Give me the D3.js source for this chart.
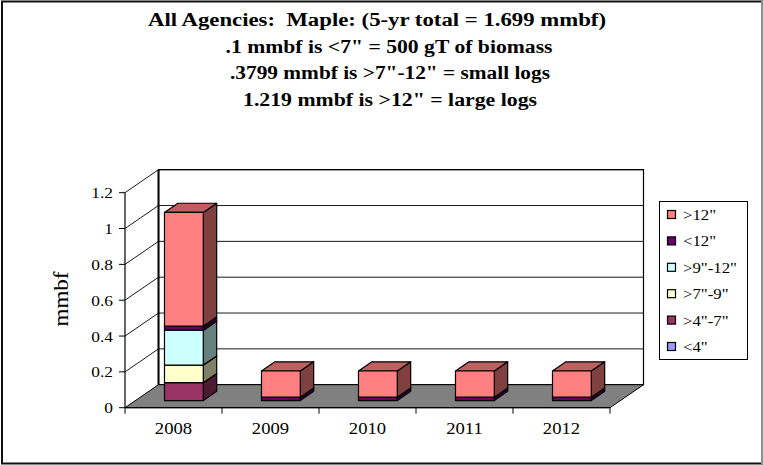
<!DOCTYPE html>
<html>
<head>
<meta charset="utf-8">
<script src="https://cdn.jsdelivr.net/npm/d3@7"></script>
<style>
  html, body { margin: 0; padding: 0; background: #fff; }
  svg { display: block; }
  text { font-family: "Liberation Serif", "Times New Roman", serif; fill: #000; white-space: pre; }
</style>
</head>
<body>
<svg id="chart" width="763" height="465"></svg>
<script>
// ---- data (mmbf per year, stacked bottom → top) ----
const years = ["2008", "2009", "2010", "2011", "2012"];
const seriesNames = ["<4\"", ">4\"-7\"", ">7\"-9\"", ">9\"-12\"", "<12\"", ">12\""];
const under4   = [0, 0, 0, 0, 0];
const from4to7 = [0.100, 0, 0, 0, 0];
const from7to9 = [0.098, 0, 0, 0, 0];
const from9to12 = [0.195, 0, 0, 0, 0];
const under12  = [0.022, 0.019, 0.019, 0.019, 0.019];
const over12   = [0.635, 0.146, 0.146, 0.146, 0.146];
const seriesValues = [under4, from4to7, from7to9, from9to12, under12, over12];
const seriesColors = ["#9999FF", "#993366", "#FFFFCC", "#CCFFFF", "#660066", "#FF8080"];
const yTicks = [0, 0.2, 0.4, 0.6, 0.8, 1, 1.2];
const titleLines = [
  "All Agencies:  Maple: (5-yr total = 1.699 mmbf)",
  ".1 mmbf is <7\" = 500 gT of biomass",
  ".3799 mmbf is >7\"-12\" = small logs",
  "1.219 mmbf is >12\" = large logs"
];

const svg = d3.select("#chart");
// text with a slight horizontal stretch (wide serif look)
const wide = (sel, k) => sel.attr("transform", function () {
  const t = d3.select(this);
  return `translate(${+t.attr("x")},${+t.attr("y")}) scale(${k},1)`;
}).attr("x", 0).attr("y", 0);

// outer frame
svg.append("rect").attr("x", 2).attr("y", 1.5).attr("width", 760).attr("height", 462)
  .attr("fill", "none").attr("stroke", "#111").attr("stroke-width", 2);
svg.append("line").attr("x1", 762).attr("x2", 762).attr("y1", 1).attr("y2", 464)
  .attr("stroke", "#bbb").attr("stroke-width", 1.5);

// title
const titleCenters = [377, 389, 390, 390];
const titleWidths = [458, 327, 320, 294];
svg.append("g").selectAll("text").data(titleLines).join("text")
  .attr("x", (d, i) => titleCenters[i]).attr("y", (d, i) => 26 + i * 26.7)
  .attr("text-anchor", "middle")
  .attr("font-size", 18.5).attr("font-weight", "bold")
  .attr("textLength", (d, i) => titleWidths[i]).attr("lengthAdjust", "spacingAndGlyphs")
  .text(d => d);

// ---- 3-D projection of the plot box ----
const x = d3.scaleBand().domain(years).range([125, 610]).paddingInner(0.6).paddingOuter(0.3);
const xSlot = d3.scaleBand().domain(years).range([125, 610]);
const y = d3.scaleLinear().domain([0, 1.2]).range([407.7, 192.7]);
const depth = { dx: 33.5, dy: -23 };
// project (screen x at front, value, depth 0..1)
const P = (sx, v, d) => [sx + depth.dx * d, y(v) + depth.dy * d];
const poly = pts => pts.map(p => p.join(",")).join(" ");

const plot = svg.append("g");
const x0 = 125, x1 = 610;

// back wall
plot.append("polygon")
  .attr("points", poly([P(x0, 0, 1), P(x1, 0, 1), P(x1, 1.2, 1), P(x0, 1.2, 1)]))
  .attr("fill", "#fff").attr("stroke", "#000").attr("stroke-width", 1.2);
// side wall
plot.append("polygon")
  .attr("points", poly([P(x0, 0, 0), P(x0, 0, 1), P(x0, 1.2, 1), P(x0, 1.2, 0)]))
  .attr("fill", "#fff").attr("stroke", "none");
// floor
plot.append("polygon")
  .attr("points", poly([P(x0, 0, 0), P(x1, 0, 0), P(x1, 0, 1), P(x0, 0, 1)]))
  .attr("fill", "#808080").attr("stroke", "#000").attr("stroke-width", 1);

// gridlines: side wall diagonal + back wall horizontal
const grid = plot.append("g").attr("stroke", "#000").attr("stroke-width", 0.9).attr("fill", "none");
grid.selectAll("polyline").data(yTicks.filter(t => t > 0)).join("polyline")
  .attr("points", t => poly([P(x0, t, 0), P(x0, t, 1), P(x1, t, 1)]));
// back vertical edge of side wall
plot.append("line")
  .attr("x1", P(x0, 0, 1)[0]).attr("y1", P(x0, 0, 1)[1])
  .attr("x2", P(x0, 1.2, 1)[0]).attr("y2", P(x0, 1.2, 1)[1])
  .attr("stroke", "#000").attr("stroke-width", 2);

// y axis
const yAxis = plot.append("g");
yAxis.append("line").attr("x1", x0).attr("x2", x0).attr("y1", y(0)).attr("y2", y(1.2))
  .attr("stroke", "#000").attr("stroke-width", 1.2);
yAxis.selectAll("line.tick").data(yTicks).join("line").attr("class", "tick")
  .attr("x1", x0 - 6).attr("x2", x0).attr("y1", d => y(d)).attr("y2", d => y(d))
  .attr("stroke", "#000");
yAxis.selectAll("text").data(yTicks).join("text")
  .attr("x", 113).attr("y", d => y(d) + 5.5)
  .attr("text-anchor", "end").attr("font-size", 15.5)
  .text(d => d3.format("~g")(d))
  .call(wide, 1.12);

// x axis
const xAxis = plot.append("g");
xAxis.append("line").attr("x1", x0).attr("x2", x1).attr("y1", y(0)).attr("y2", y(0))
  .attr("stroke", "#000").attr("stroke-width", 1.2);
xAxis.selectAll("line.tick").data(years.concat(["end"])).join("line").attr("class", "tick")
  .attr("x1", (d, i) => x0 + i * xSlot.step()).attr("x2", (d, i) => x0 + i * xSlot.step())
  .attr("y1", y(0)).attr("y2", y(0) + 6)
  .attr("stroke", "#000");
xAxis.selectAll("text").data(years).join("text")
  .attr("x", d => xSlot(d) + xSlot.bandwidth() / 2).attr("y", 434)
  .attr("text-anchor", "middle").attr("font-size", 16.5)
  .text(d => d)
  .call(wide, 1.13);

// y title
svg.append("text")
  .attr("transform", "translate(68,299) rotate(-90)")
  .attr("text-anchor", "middle").attr("font-size", 20)
  .attr("textLength", 55).attr("lengthAdjust", "spacingAndGlyphs")
  .text("mmbf");

// ---- stacked 3-D bars ----
const rows = years.map((yr, i) => {
  const r = { year: yr };
  seriesNames.forEach((s, k) => { r[s] = seriesValues[k][i]; });
  return r;
});
const stack = d3.stack().keys(seriesNames)(rows);
const dFront = 0.31, dBack = 0.71;
const shade = (c, f) => { const o = d3.rgb(c); return d3.rgb(o.r * f, o.g * f, o.b * f).formatHex(); };

const barsG = plot.append("g");
years.forEach((yr, i) => {
  const bx0 = x(yr), bx1 = x(yr) + x.bandwidth();
  stack.forEach((layer, k) => {
    const [v0, v1] = layer[i];
    if (v1 - v0 <= 0) return;
    const c = seriesColors[k];
    const g = barsG.append("g").attr("stroke", "#000").attr("stroke-width", 1.2).attr("stroke-linejoin", "round");
    // right side
    g.append("polygon").attr("fill", shade(c, 0.5))
      .attr("points", poly([P(bx1, v0, dFront), P(bx1, v0, dBack), P(bx1, v1, dBack), P(bx1, v1, dFront)]));
    // top
    g.append("polygon").attr("fill", shade(c, 0.75))
      .attr("points", poly([P(bx0, v1, dFront), P(bx1, v1, dFront), P(bx1, v1, dBack), P(bx0, v1, dBack)]));
    // front
    g.append("polygon").attr("fill", c)
      .attr("points", poly([P(bx0, v0, dFront), P(bx1, v0, dFront), P(bx1, v1, dFront), P(bx0, v1, dFront)]));
  });
});

// ---- legend ----
const legend = svg.append("g");
legend.append("rect").attr("x", 659.5).attr("y", 201.5).attr("width", 88).attr("height", 158)
  .attr("fill", "#fff").attr("stroke", "#000").attr("stroke-width", 1);
const legItems = seriesNames.map((s, k) => ({ name: s, color: seriesColors[k] })).reverse();
const li = legend.selectAll("g.item").data(legItems).join("g").attr("class", "item")
  .attr("transform", (d, i) => `translate(0,${215 + i * 26.4})`);
li.append("rect").attr("x", 667.5).attr("y", -4.5).attr("width", 8).attr("height", 8)
  .attr("fill", d => d.color).attr("stroke", "#000").attr("stroke-width", 1.2);
li.append("text").attr("x", 683).attr("y", 5).attr("font-size", 15)
  .text(d => d.name)
  .call(wide, 1.12);
</script>
</body>
</html>
